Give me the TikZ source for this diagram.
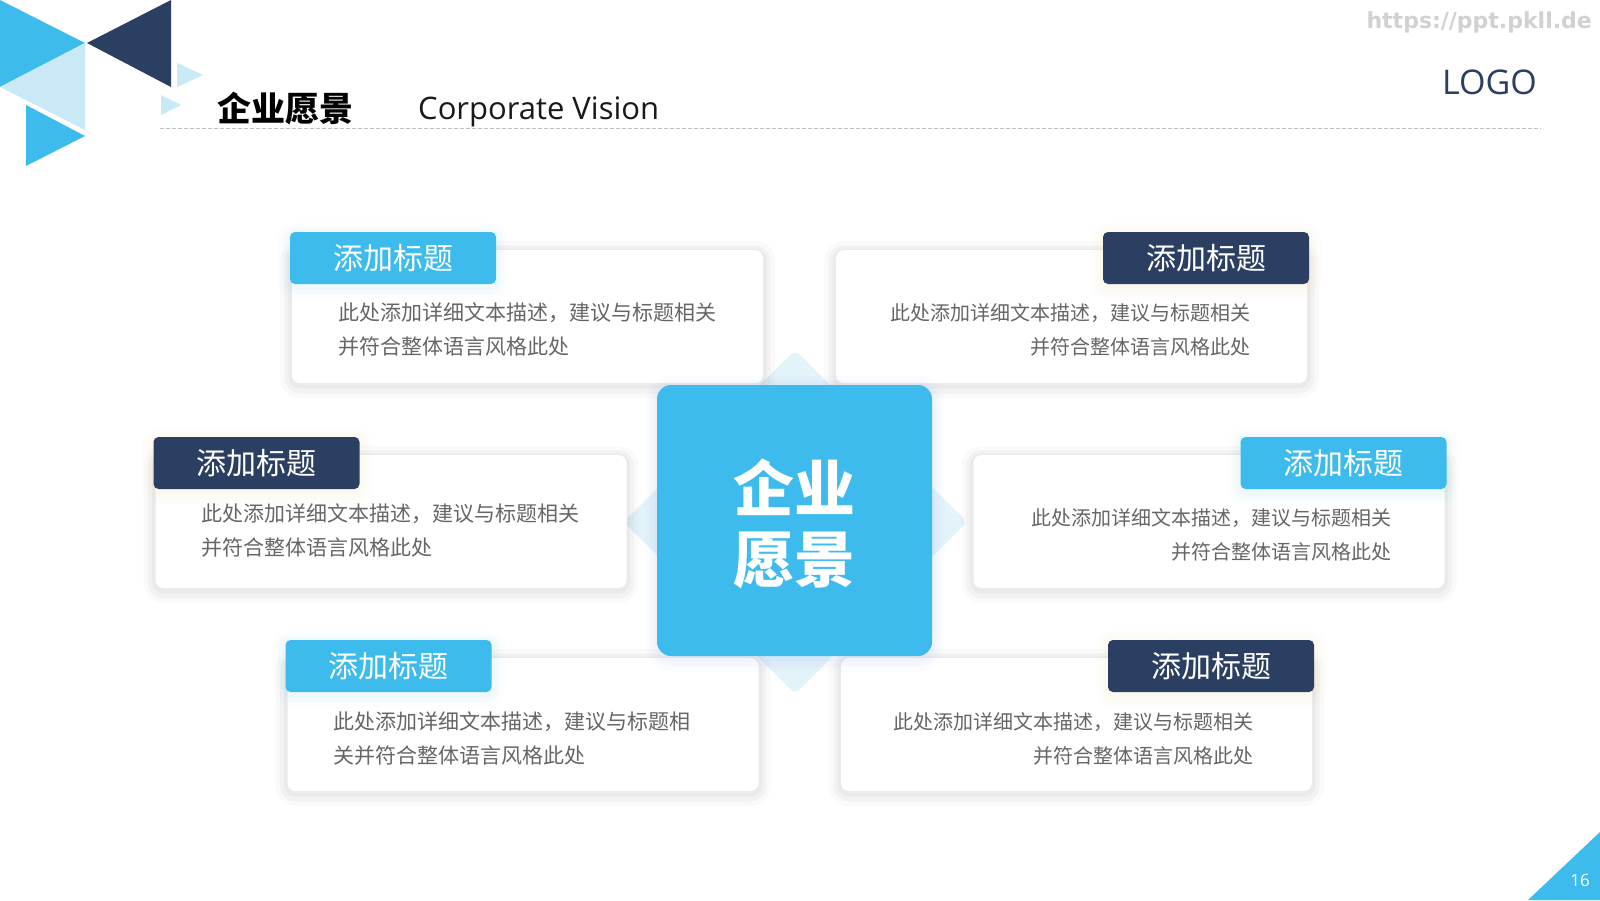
\documentclass[tikz,border=0pt]{standalone}
\usepackage{fontspec}
\setmainfont{Noto Sans CJK SC}
\newfontfamily\latinfont{Open Sans}
\newfontfamily\urlfont{DejaVu Sans}

\definecolor{skyblue}{HTML}{3DBBEC}
\definecolor{navyblue}{HTML}{2B3F62}
\definecolor{paleblue}{HTML}{C9E9F7}
\definecolor{bodygray}{HTML}{666666}
\definecolor{warmglow}{HTML}{F5C860}
\definecolor{blueglow}{HTML}{5A78F0}

\tikzset{
  glow/.style={
    preaction={draw=#1, draw opacity=0.02, line width=24pt, transform canvas={yshift=-3pt}},
    preaction={draw=#1, draw opacity=0.03, line width=15pt, transform canvas={yshift=-3pt}},
    preaction={draw=#1, draw opacity=0.03, line width=7pt, transform canvas={yshift=-2pt}}},
  glow/.default=black,
  card/.style={fill=white, rounded corners=8pt, minimum width=471pt, minimum height=133pt, inner sep=0pt, glow},
  tagbox/.style={minimum width=206pt, minimum height=52pt, rounded corners=5pt, inner sep=0pt,
    text=white, font=\fontsize{30}{30}\selectfont},
  tagsky/.style={tagbox, fill=skyblue, glow=skyblue},
  tagnavy/.style={tagbox, fill=navyblue, glow=warmglow},
  bodytext/.style={text=bodygray, font=\fontsize{21}{34}\selectfont, inner sep=0pt},
  bodyright/.style={bodytext, font=\fontsize{20}{34}\selectfont, align=right, anchor=east}
}

\begin{document}
\begin{tikzpicture}[x=1pt, y=-1pt]
  \fill[white] (0,0) rectangle (1600,900);
  \useasboundingbox (0,0) rectangle (1600,900);

  % corner triangles
  \fill[skyblue] (0,0) -- (85,43) -- (0,87) -- cycle;
  \fill[navyblue] (171,0) -- (171,87) -- (87,43) -- cycle;
  \fill[paleblue] (0,87) -- (85,43) -- (85,130) -- cycle;
  \fill[skyblue] (26,105) -- (85,136) -- (26,166) -- cycle;
  \fill[paleblue] (177,63) -- (203,75) -- (177,87) -- cycle;
  \fill[paleblue] (161,95) -- (181,105) -- (161,115) -- cycle;
  \fill[skyblue] (1600,832) -- (1600,900) -- (1528,900) -- cycle;

  % header
  \node[anchor=west, inner sep=0pt, font=\fontsize{34}{34}\selectfont\bfseries] (head) at (217,109) {企业愿景};
  \node[anchor=west, inner sep=0pt, font=\latinfont\fontsize{31}{31}\selectfont, text=black!90] (headen) at (418,112) {Corporate Vision};
  \node[anchor=east, inner sep=0pt, font=\urlfont\bfseries\fontsize{22}{22}\selectfont, text=black!18] (url) at (1592,22) {https://ppt.pkll.de};
  \node[anchor=east, inner sep=0pt, font=\latinfont\fontsize{34}{34}\selectfont, text=navyblue] (logo) at (1537,82) {LOGO};
  \node[inner sep=0pt, font=\latinfont\fontsize{17}{17}\selectfont, text=white] (page) at (1580,880) {16};
  \draw[black!25, line width=1pt, dash pattern=on 4pt off 2pt] (160,128) -- (1541,128);

  % diamond behind
  \fill[paleblue, opacity=0.5, rounded corners=6pt] (795,350) -- (967,522) -- (795,694) -- (624,522) -- cycle;

  % cards
  \node[card] (c1) at (527.5,316.5) {};
  \node[card] (c2) at (1071.5,316.5) {};
  \node[card] (c3) at (391,521.5) {};
  \node[card] (c4) at (1209,521.5) {};
  \node[card] (c5) at (523,724.5) {};
  \node[card] (c6) at (1076.5,724.5) {};

  % center
  \node[fill=skyblue, rounded corners=14pt, minimum width=275pt, minimum height=271pt, inner sep=0pt, glow=blueglow]
    (vision) at (794.5,520.5) {};
  \node[text=white, align=center, inner sep=0pt, font=\fontsize{61}{71}\selectfont\bfseries]
    (visiontext) at ([yshift=-3pt]vision.center) {企业\\愿景};

  % labels
  \node[tagsky, anchor=north west] (t1) at ([xshift=-2pt, yshift=18pt]c1.north west) {添加标题};
  \node[tagnavy, anchor=north east] (t2) at ([xshift=2pt, yshift=18pt]c2.north east) {添加标题};
  \node[tagnavy, anchor=north west] (t3) at ([xshift=-2pt, yshift=18pt]c3.north west) {添加标题};
  \node[tagsky, anchor=north east] (t4) at ([xshift=2pt, yshift=18pt]c4.north east) {添加标题};
  \node[tagsky, anchor=north west] (t5) at ([xshift=-2pt, yshift=18pt]c5.north west) {添加标题};
  \node[tagnavy, anchor=north east] (t6) at ([xshift=2pt, yshift=18pt]c6.north east) {添加标题};

  % texts
  \node[bodytext, align=left, anchor=west] (d1) at (338,330) {此处添加详细文本描述，建议与标题相关\\并符合整体语言风格此处};
  \node[bodyright] (d2) at (1251,330) {此处添加详细文本描述，建议与标题相关\\并符合整体语言风格此处};
  \node[bodytext, align=left, anchor=west] (d3) at (201,530.5) {此处添加详细文本描述，建议与标题相关\\并符合整体语言风格此处};
  \node[bodyright] (d4) at (1392,535) {此处添加详细文本描述，建议与标题相关\\并符合整体语言风格此处};
  \node[bodytext, align=left, anchor=west] (d5) at (333,739) {此处添加详细文本描述，建议与标题相\\关并符合整体语言风格此处};
  \node[bodyright] (d6) at (1254,739) {此处添加详细文本描述，建议与标题相关\\并符合整体语言风格此处};
\end{tikzpicture}
\end{document}
